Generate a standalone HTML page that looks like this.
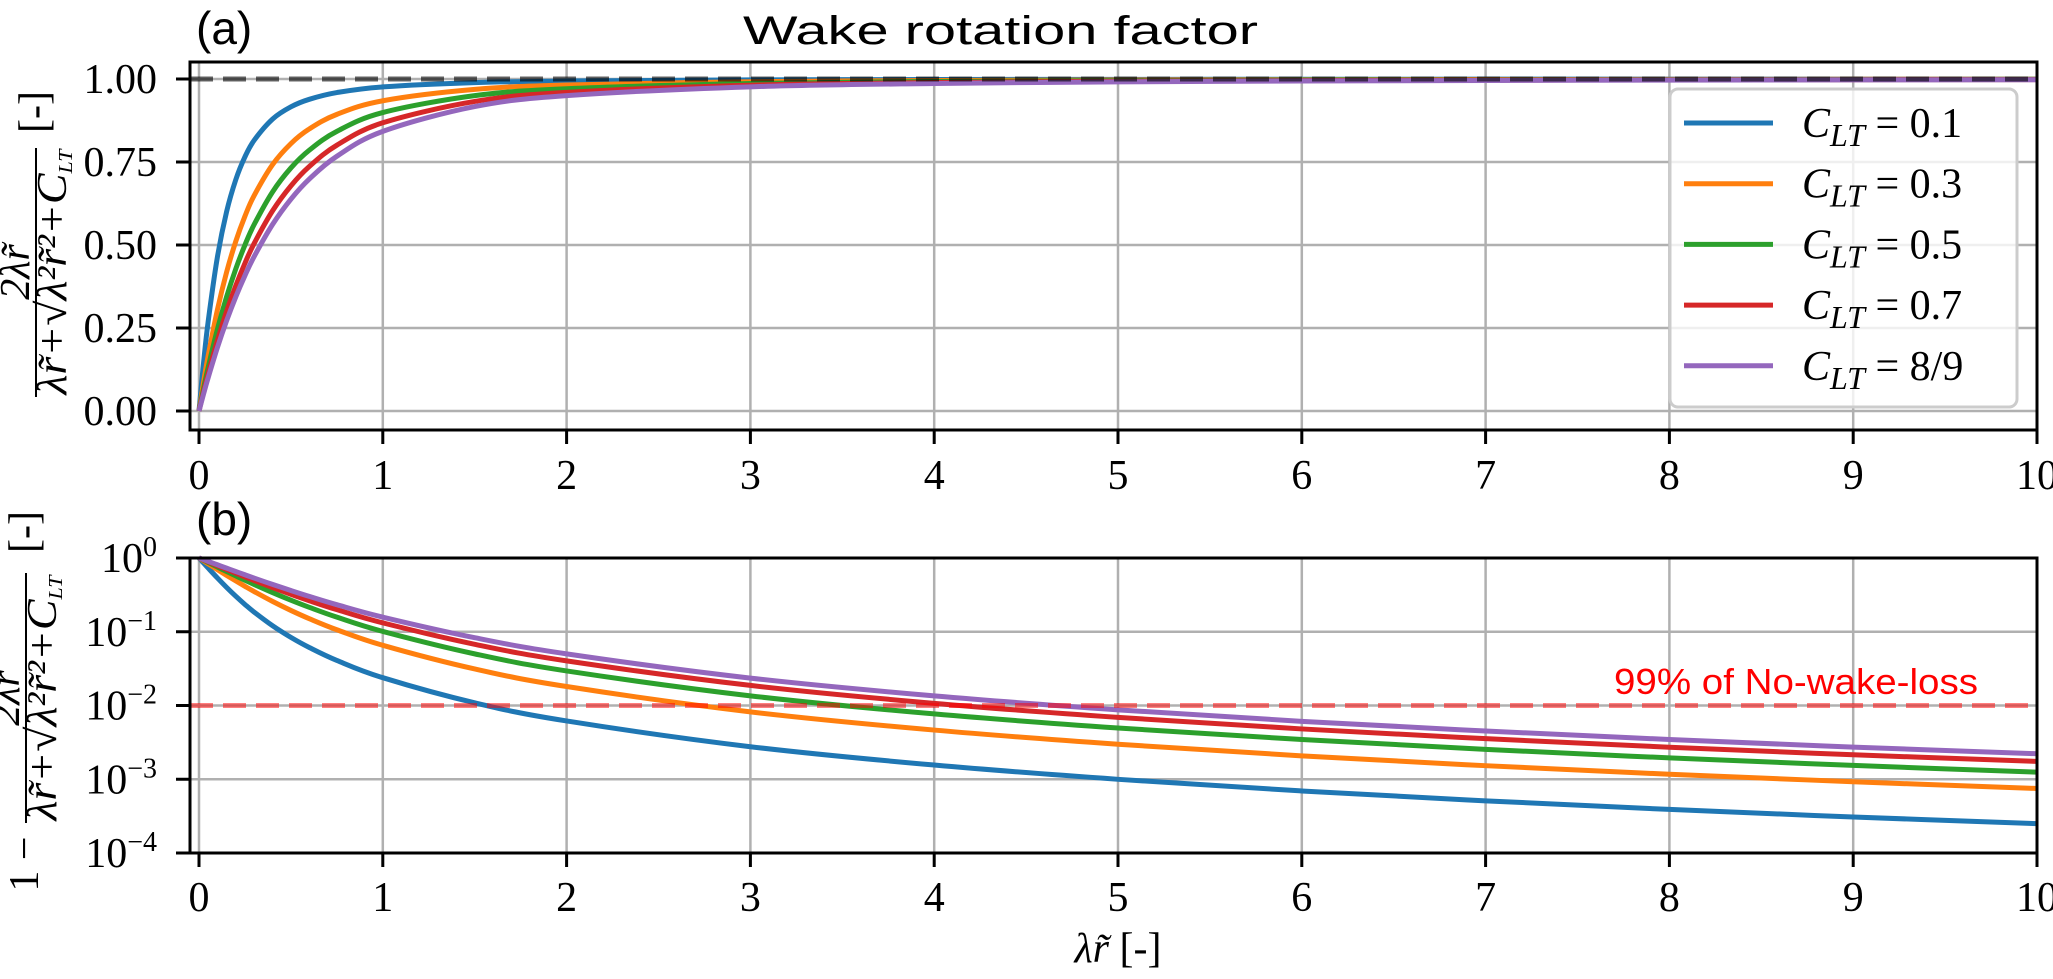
<!DOCTYPE html>
<html><head><meta charset="utf-8"><style>
html,body{margin:0;padding:0;background:#fff;}
svg{display:block;}
.tk{font-family:"Liberation Serif",serif;font-size:42px;fill:#000;}
.sans{font-family:"Liberation Sans",sans-serif;}
</style></head><body>
<svg id="chart" width="2053" height="979" viewBox="0 0 2053 979" xmlns="http://www.w3.org/2000/svg">
<g id="gridA"></g>
<g id="gridB"></g>
<g id="curvesA"></g>
<g id="curvesB"></g>
<g id="axesA"></g>
<g id="axesB"></g>
<text x="743" y="44" class="sans" font-size="40" textLength="515" lengthAdjust="spacingAndGlyphs">Wake rotation factor</text>
<text x="196" y="44" class="sans" font-size="46">(a)</text>
<text x="196" y="535" class="sans" font-size="46">(b)</text>
<text x="1978" y="694" text-anchor="end" class="sans" font-size="36" fill="#ff0000" textLength="364" lengthAdjust="spacingAndGlyphs">99% of No-wake-loss</text>
<text x="1118" y="962" text-anchor="middle" class="tk" font-size="42"><tspan font-style="italic">λr̃</tspan> [-]</text>
<g>
 <text transform="translate(48,112) rotate(-90)" text-anchor="middle" class="tk" font-size="34">[-]</text>
 <line x1="36" y1="148" x2="36" y2="397" stroke="#000" stroke-width="2"/>
 <text transform="translate(29,272) rotate(-90)" text-anchor="middle" class="tk" font-size="30" font-style="italic">2λr̃</text>
 <text transform="translate(66,272) rotate(-90)" text-anchor="middle" class="tk" font-size="30" font-style="italic" textLength="245" lengthAdjust="spacingAndGlyphs">λr̃+√λ²r̃²+C<tspan font-size="20" dy="6">LT</tspan></text>
</g>
<g>
 <text transform="translate(38,532) rotate(-90)" text-anchor="middle" class="tk" font-size="34">[-]</text>
 <line x1="26" y1="573" x2="26" y2="823" stroke="#000" stroke-width="2"/>
 <text transform="translate(19,698) rotate(-90)" text-anchor="middle" class="tk" font-size="30" font-style="italic">2λr̃</text>
 <text transform="translate(56,698) rotate(-90)" text-anchor="middle" class="tk" font-size="30" font-style="italic" textLength="245" lengthAdjust="spacingAndGlyphs">λr̃+√λ²r̃²+C<tspan font-size="20" dy="6">LT</tspan></text>
 <text transform="translate(38,864) rotate(-90)" text-anchor="middle" class="tk" font-size="34">1 −</text>
</g>
<g id="legend"></g>
</svg>
<script>
const xs = [0, 0.025, 0.05, 0.1, 0.15, 0.2, 0.25, 0.3, 0.4, 0.5, 0.6, 0.75, 1, 1.5, 2, 3, 4, 5, 6, 7, 8, 9, 10];
const seriesLabels = ["0.1", "0.3", "0.5", "0.7", "8/9"];
// loss values 1 - f for each C_LT
const loss01 = [1, 0.8539, 0.7299, 0.5367, 0.4000, 0.3034, 0.2344, 0.1847, 0.1208, 0.0839, 0.0612, 0.04086, 0.02382, 0.01088, 0.006174, 0.002762, 0.001558, 0.000998, 0.000694, 0.000510, 0.000390, 0.000308, 0.000250];
const loss03 = [1, 0.9128, 0.8333, 0.6955, 0.5821, 0.4892, 0.4132, 0.3510, 0.2580, 0.1946, 0.1504, 0.1065, 0.0655, 0.03129, 0.01808, 0.008197, 0.004645, 0.002982, 0.002075, 0.001527, 0.00117, 0.000926, 0.00075];
const loss05 = [1, 0.9317, 0.8682, 0.7543, 0.6563, 0.5721, 0.5000, 0.4383, 0.3402, 0.2679, 0.2144, 0.1577, 0.1010, 0.05013, 0.02944, 0.01352, 0.007693, 0.00495, 0.00346, 0.00254, 0.00195, 0.00154, 0.001247];
const loss07 = [1, 0.9420, 0.8874, 0.7878, 0.7000, 0.6227, 0.5548, 0.4953, 0.3973, 0.3219, 0.2636, 0.1994, 0.1319, 0.06763, 0.04030, 0.01872, 0.01070, 0.006904, 0.00481, 0.00355, 0.00272, 0.00215, 0.001746];
const loss89 = [1, 0.9484, 0.8994, 0.8092, 0.7284, 0.6563, 0.5920, 0.5347, 0.4383, 0.3619, 0.3013, 0.2326, 0.1577, 0.08305, 0.05012, 0.02354, 0.01352, 0.008734, 0.00610, 0.00451, 0.00346, 0.00273, 0.00222];
const xTicks = [0,1,2,3,4,5,6,7,8,9,10];
const yTicksA = [0, 0.25, 0.5, 0.75, 1.0];
const yTickLabelsA = ["0.00","0.25","0.50","0.75","1.00"];
const yTicksBExp = [0,-1,-2,-3,-4];
const refA = 1.0;
const refB = 0.01;

const colors = ["#1f77b4","#ff7f0e","#2ca02c","#d62728","#9467bd"];
const allLoss = [loss01, loss03, loss05, loss07, loss89];
const NS = "http://www.w3.org/2000/svg";
const L=190, R=2037, AT=62, AB=430, BT=558, BB=853;
const sx = x => 199 + x*183.8;
const syA = v => 411 - v*332;
const syB = v => 558 - (Math.log10(v))*73.75;

function mk(tag, attrs, parent){ const e=document.createElementNS(NS,tag); for(const k in attrs) e.setAttribute(k,attrs[k]); parent.appendChild(e); return e; }
function pathFrom(pts){
  let d = "M"+pts[0][0].toFixed(2)+","+pts[0][1].toFixed(2);
  for(let i=0;i<pts.length-1;i++){
    const p0=pts[Math.max(0,i-1)], p1=pts[i], p2=pts[i+1], p3=pts[Math.min(pts.length-1,i+2)];
    const c1=[p1[0]+(p2[0]-p0[0])/6, p1[1]+(p2[1]-p0[1])/6];
    const c2=[p2[0]-(p3[0]-p1[0])/6, p2[1]-(p3[1]-p1[1])/6];
    d+=" C"+c1[0].toFixed(2)+","+c1[1].toFixed(2)+" "+c2[0].toFixed(2)+","+c2[1].toFixed(2)+" "+p2[0].toFixed(2)+","+p2[1].toFixed(2);
  }
  return d;
}
const gA=document.getElementById("gridA"), gB=document.getElementById("gridB");
xTicks.forEach(t=>{
  let l=mk("line",{x1:sx(t),x2:sx(t),y1:AT,y2:AB,stroke:"#b0b0b0","stroke-width":2.5},gA);
  
  
  l=mk("line",{x1:sx(t),x2:sx(t),y1:BT,y2:BB,stroke:"#b0b0b0","stroke-width":2.5},gB);
  
  
});
yTicksA.forEach(t=>{
  const l=mk("line",{x1:L,x2:R,y1:syA(t),y2:syA(t),stroke:"#b0b0b0","stroke-width":2.5},gA);
  
  
});
yTicksBExp.forEach(e=>{
  const l=mk("line",{x1:L,x2:R,y1:syB(Math.pow(10,e)),y2:syB(Math.pow(10,e)),stroke:"#b0b0b0","stroke-width":2.5},gB);
  
  
});
const cA=document.getElementById("curvesA"), cB=document.getElementById("curvesB");
allLoss.forEach((arr,i)=>{
  const pa=mk("path",{d:pathFrom(xs.map((x,j)=>[sx(x),syA(1-arr[j])])),fill:"none",stroke:colors[i],"stroke-width":5,"stroke-linejoin":"round"},cA);
  
  
  const pb=mk("path",{d:pathFrom(xs.map((x,j)=>[sx(x),syB(arr[j])])),fill:"none",stroke:colors[i],"stroke-width":5,"stroke-linejoin":"round"},cB);
  
  
});
let rl=mk("line",{x1:L,x2:R,y1:syA(refA),y2:syA(refA),stroke:"rgba(0,0,0,0.6)","stroke-width":5,"stroke-dasharray":"23 10"},cA);


rl=mk("line",{x1:L,x2:R,y1:syB(refB),y2:syB(refB),stroke:"rgba(255,0,0,0.5)","stroke-width":5,"stroke-dasharray":"23 10"},cB);



const aA=document.getElementById("axesA"), aB=document.getElementById("axesB");
[[aA,AT,AB,475],[aB,BT,BB,897]].forEach(([g,t,b,ly])=>{
  const r=mk("rect",{x:L,y:t,width:R-L,height:b-t,fill:"none",stroke:"#000","stroke-width":3},g);
  
  
  xTicks.forEach(v=>{
    const tk=mk("line",{x1:sx(v),x2:sx(v),y1:b,y2:b+14,stroke:"#000","stroke-width":3},g);
    
    
    const tx=mk("text",{x:sx(v),y:ly+14,"text-anchor":"middle",class:"tk"},g);
    tx.textContent=String(v);
    
    
  });
});
yTicksA.forEach((v,i)=>{
  const tk=mk("line",{x1:L-14,x2:L,y1:syA(v),y2:syA(v),stroke:"#000","stroke-width":3},aA);
  
  
  const tx=mk("text",{x:157,y:syA(v)+14,"text-anchor":"end",class:"tk"},aA);
  tx.textContent=yTickLabelsA[i];
  
  
});
yTicksBExp.forEach(e=>{
  const y=syB(Math.pow(10,e));
  const tk=mk("line",{x1:L-14,x2:L,y1:y,y2:y,stroke:"#000","stroke-width":3},aB);
  
  
  const tx=mk("text",{x:157,y:y+14,"text-anchor":"end",class:"tk"},aB);
  
  
  const t1=mk("tspan",{},tx); t1.textContent="10";
  const t2=mk("tspan",{dy:-16,"font-size":"28"},tx); t2.textContent=(e===0?"0":"−"+(-e));
});
const lg=document.getElementById("legend");
mk("rect",{x:1670,y:89,width:347,height:318,rx:8,fill:"rgba(255,255,255,0.8)",stroke:"#cccccc","stroke-width":3},lg);
seriesLabels.forEach((s,i)=>{
  const y=123+i*60.7;
  const ln=mk("line",{x1:1684,x2:1773,y1:y,y2:y,stroke:colors[i],"stroke-width":5},lg);
  
  
  const tx=mk("text",{x:1802,y:y+14,class:"tk","font-size":"46"},lg);
  
  
  const a=mk("tspan",{"font-style":"italic"},tx); a.textContent="C";
  const b=mk("tspan",{"font-style":"italic","font-size":"32",dy:9},tx); b.textContent="LT";
  const c=mk("tspan",{dy:-9},tx); c.textContent=" = "+s;
});
</script>
</body></html>
